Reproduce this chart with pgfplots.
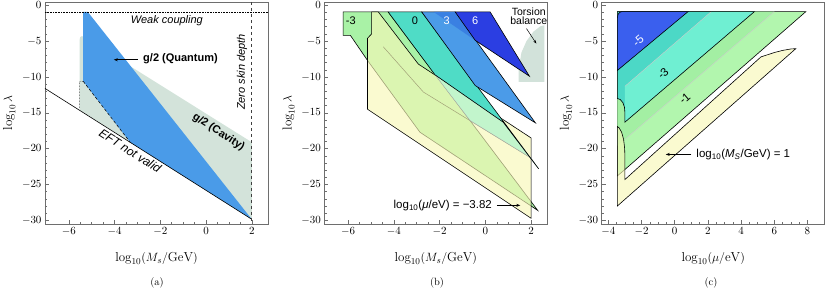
\documentclass[border=0pt]{standalone}
\usepackage{fontspec}
\usepackage{pgfplots}
\pgfplotsset{compat=1.18}
\usetikzlibrary{arrows.meta}
\newfontfamily\sans{Liberation Sans}
\definecolor{framec}{HTML}{6E6E6E}
\definecolor{cavgrey}{HTML}{D3E3DA}
\definecolor{qblue}{HTML}{4A9BE8}
\definecolor{dblue}{HTML}{2B3EE2}
\definecolor{mblue}{HTML}{3A80E2}
\definecolor{bblue}{HTML}{4B9BE8}
\definecolor{tealc}{HTML}{4FDCC6}
\definecolor{mint}{HTML}{C2F5CC}
\definecolor{lgreen}{HTML}{A9F2A6}
\definecolor{yel}{HTML}{F7F7B7}
\definecolor{torsion}{HTML}{D2E2DA}
\definecolor{cblue}{HTML}{3A5FEE}
\definecolor{ctealdark}{HTML}{4CD8C6}
\definecolor{ctealight}{HTML}{6FEFD2}
\definecolor{cgreendark}{HTML}{A3EFA3}
\definecolor{cgreenlight}{HTML}{B2F6AE}
\newcommand{\sz}[1]{\fontsize{#1}{#1}\selectfont}
\pgfplotsset{
 panel/.style={
  scale only axis, width=223pt, height=222pt,
  ymin=-30.5, ymax=0.45,
  ytick={-30,-25,-20,-15,-10,-5,0},
  minor y tick num=4, minor x tick num=3,
  tick align=inside, xtick pos=left, ytick pos=left,
  axis line style={draw=framec, line width=0.6pt},
  tick style={draw=framec, line width=0.5pt},
  major tick length=4pt, minor tick length=2.2pt,
  tick label style={font=\sz{11}, black},
  label style={font=\sz{13}},
  xlabel style={at={(axis description cs:0.5,-0.155)}, anchor=center},
  ylabel style={at={(axis description cs:-0.16,0.5)}, anchor=center},
  ylabel={$\log_{10}\lambda$},
 },
 outl/.style={draw=black, line width=0.6pt},
}
\begin{document}
\begin{tikzpicture}
\useasboundingbox (0,0) rectangle (831pt,296pt);
% ---------------- (a)
\begin{axis}[panel, at={(45pt,72pt)}, anchor=south west,
  xmin=-7.04, xmax=2.71, xtick={-6,-4,-2,0,2},
  xlabel={$\log_{10}(M_s/\mathrm{GeV})$}]
\addplot[fill=cavgrey, draw=none] coordinates {(-5.53,-14.6) (-5.53,-4.9) (-5.5,-4.45) (-5.42,-4.3) (2,-19.1) (2,-29.84)} -- cycle;
\addplot[fill=qblue, draw=none] coordinates {(-5.37,-0.93) (-5.17,-0.93) (2,-29.84) (-3.31,-19.13) (-5.37,-10.6)} -- cycle;
\addplot[black, densely dotted, line width=0.5pt] coordinates {(-5.53,-14.3) (-5.53,-10.7) (-5.37,-10.6)};
\addplot[black, densely dashed, line width=0.5pt] coordinates {(-5.37,-10.6) (-3.31,-19.13)};
\addplot[black, line width=0.6pt] coordinates {(-7.04,-11.6) (2,-29.84)};
\addplot[black, densely dotted, line width=0.6pt] coordinates {(-7.04,-0.93) (2.71,-0.93)};
\addplot[black!75, dashed, line width=0.7pt] coordinates {(2,0.45) (2,-30.5)};
\node[font=\sans\itshape\sz{11}] at (axis cs:-1.71,-2.1) {Weak coupling};
\node[font=\sans\bfseries\sz{11}, anchor=west] at (axis cs:-2.9,-7.44) {g/2 (Quantum)};
\draw[-{Stealth[length=4pt]}, line width=0.6pt] (axis cs:-2.99,-7.6) -- (axis cs:-4.03,-7.6);
\node[font=\sans\bfseries\sz{11}, rotate=-32.5, inner sep=1pt] at (axis cs:0.55,-17.7) {g/2 (Cavity)};
\node[font=\sans\itshape\sz{12}, rotate=-32.5, inner sep=1pt] at (axis cs:-3.31,-20.3) {EFT not valid};
\node[font=\sans\itshape\sz{11}, rotate=90] at (axis cs:1.57,-9.3) {Zero skin depth};
\end{axis}
% ---------------- (b)
\begin{axis}[panel, at={(324.3pt,72pt)}, anchor=south west,
  xmin=-7.04, xmax=2.71, xtick={-6,-4,-2,0,2},
  xlabel={$\log_{10}(M_s/\mathrm{GeV})$}]
\addplot[fill=torsion, draw=none] coordinates {(1.46,-10.7) (1.46,-8.8) (1.58,-6.6) (1.8,-5.0) (2.1,-3.7) (2.4,-2.95) (2.58,-2.8) (2.58,-10.7)} -- cycle;
\addplot[fill=lgreen, outl] coordinates {(-6.22,-0.93) (-4.25,-0.93) (2.29,-28.6) (-2.86,-17.7) (-5.15,-7.7) (-5.9,-4.2) (-6.22,-4.2)} -- cycle;
\addplot[black, line width=0.5pt] coordinates {(-4.46,-5.8) (-2.71,-12.1) (2.0,-21.3)};
\addplot[fill=yel, fill opacity=0.65, outl] coordinates {(-4.97,-0.93) (-4.68,-0.93) (-2.93,-8.2) (2,-18.5) (2,-29.7) (-5.15,-14.5) (-5.15,-4.6) (-4.97,-4.0)} -- cycle;
\addplot[fill=mint, draw=black!35, line width=0.4pt] coordinates {(-2.2,-9.7) (0.78,-16.3) (2.33,-22.8) (2.0,-21.3) (-0.67,-16.07)} -- cycle;
\addplot[fill=tealc, outl] coordinates {(-4.25,-0.93) (-2.78,-0.93) (2.33,-22.8) (0.78,-16.3) (-2.2,-9.7)} -- cycle;
\addplot[fill=bblue, outl] coordinates {(-2.78,-0.93) (-1.32,-0.93) (2.19,-16.4) (-0.44,-11.2)} -- cycle;
\addplot[fill=mblue, draw=none] coordinates {(-2.26,-0.93) (-1.32,-0.93) (-0.44,-4.9)} -- cycle;
\addplot[fill=dblue, outl] coordinates {(-1.32,-0.93) (0.21,-0.93) (1.93,-9.9) (-0.44,-4.9)} -- cycle;
\node[font=\sans\sz{11}] at (axis cs:-5.88,-2.1) {-3};
\node[font=\sans\sz{11}] at (axis cs:-3.08,-2.1) {0};
\node[font=\sans\sz{11}, white] at (axis cs:-1.69,-2.1) {3};
\node[font=\sans\sz{11}, white] at (axis cs:-0.44,-2.1) {6};
\node[font=\sans\sz{10.5}, align=center, inner sep=0pt] at (axis cs:1.9,-1.5) {Torsion\\[-1.5pt]balance};
\draw[-{Stealth[length=3.5pt]}, line width=0.5pt] (axis cs:1.8,-3.25) -- (axis cs:2.23,-5.35);
\node[font=\sans\sz{11.5}] at (axis cs:-1.86,-27.9) {log\textsubscript{10}(\textit{μ}/eV) = −3.82};
\draw[-{Stealth[length=4pt]}, line width=0.6pt] (axis cs:0.51,-27.9) -- (axis cs:1.53,-27.9);
\end{axis}
% ---------------- (c)
\begin{axis}[panel, at={(601.7pt,72pt)}, anchor=south west,
  xmin=-4.4, xmax=9.04, xtick={-4,-2,0,2,4,6,8},
  xlabel={$\log_{10}(\mu/\mathrm{eV})$}]
\addplot[fill=cgreenlight, outl] coordinates {(-3.46,-0.9) (7.9,-0.9) (-3.0,-22.9) (-3.46,-23.8)} -- cycle;
\addplot[fill=cgreendark, draw=none] coordinates {(-3.46,-0.9) (6.0,-0.9) (-3.0,-18.7) (-3.46,-19.6)} -- cycle;
\addplot[black!20, line width=0.4pt] coordinates {(6.0,-0.9) (-3.0,-18.7)};
\addplot[fill=yel, fill opacity=0.65, outl] coordinates {(-3.46,-28.0) (7.3,-6.05) (7.0,-6.1) (6.5,-6.3) (6.0,-6.6) (5.2,-7.2) (-3.0,-24.3) (-3.0,-21.0) (-3.02,-19.9) (-3.08,-18.7) (-3.2,-17.7) (-3.35,-17.1) (-3.46,-16.9)} -- cycle;
\addplot[fill=ctealdark, draw=none] coordinates {(-3.46,-0.9) (4.8,-0.9) (-3.0,-16.3) (-3.0,-15.0) (-3.03,-14.2) (-3.12,-13.6) (-3.28,-13.15) (-3.46,-13.0)} -- cycle;
\addplot[fill=ctealight, draw=none] coordinates {(2.2,-0.9) (4.8,-0.9) (-3.0,-16.3) (-3.0,-11.3)} -- cycle;
\addplot[black!20, line width=0.4pt] coordinates {(2.2,-0.9) (-3.0,-11.3)};
\addplot[outl] coordinates {(-3.46,-0.9) (4.8,-0.9) (-3.0,-16.3) (-3.0,-15.0) (-3.03,-14.2) (-3.12,-13.6) (-3.28,-13.15) (-3.46,-13.0)} -- cycle;
\addplot[fill=cblue, outl] coordinates {(-3.46,-9.1) (-3.46,-1.8) (-3.42,-1.3) (-3.32,-1.0) (-3.2,-0.9) (0.8,-0.9)} -- cycle;
\node[font=\sans\sz{11.5}, white, rotate=40.7, inner sep=0pt] at (axis cs:-2.2,-5.0) {-5};
\node[font=\sans\sz{11.5}, rotate=40.7, inner sep=0pt] at (axis cs:-0.7,-9.5) {-3};
\node[font=\sans\sz{11.5}, rotate=40.7, inner sep=0pt] at (axis cs:0.6,-13.0) {-1};
\node[font=\sans\sz{11.5}, anchor=west] at (axis cs:1.1,-20.8) {log\textsubscript{10}(\textit{M}\textsubscript{\textit{S}}/GeV) = 1};
\draw[-{Stealth[length=4pt]}, line width=0.6pt] (axis cs:1.0,-20.8) -- (axis cs:-0.54,-20.8);
\end{axis}
\node[font=\sz{10.5}] at (157pt,13pt) {(a)};
\node[font=\sz{10.5}] at (437pt,13pt) {(b)};
\node[font=\sz{10.5}] at (711pt,13pt) {(c)};
\end{tikzpicture}
\end{document}
